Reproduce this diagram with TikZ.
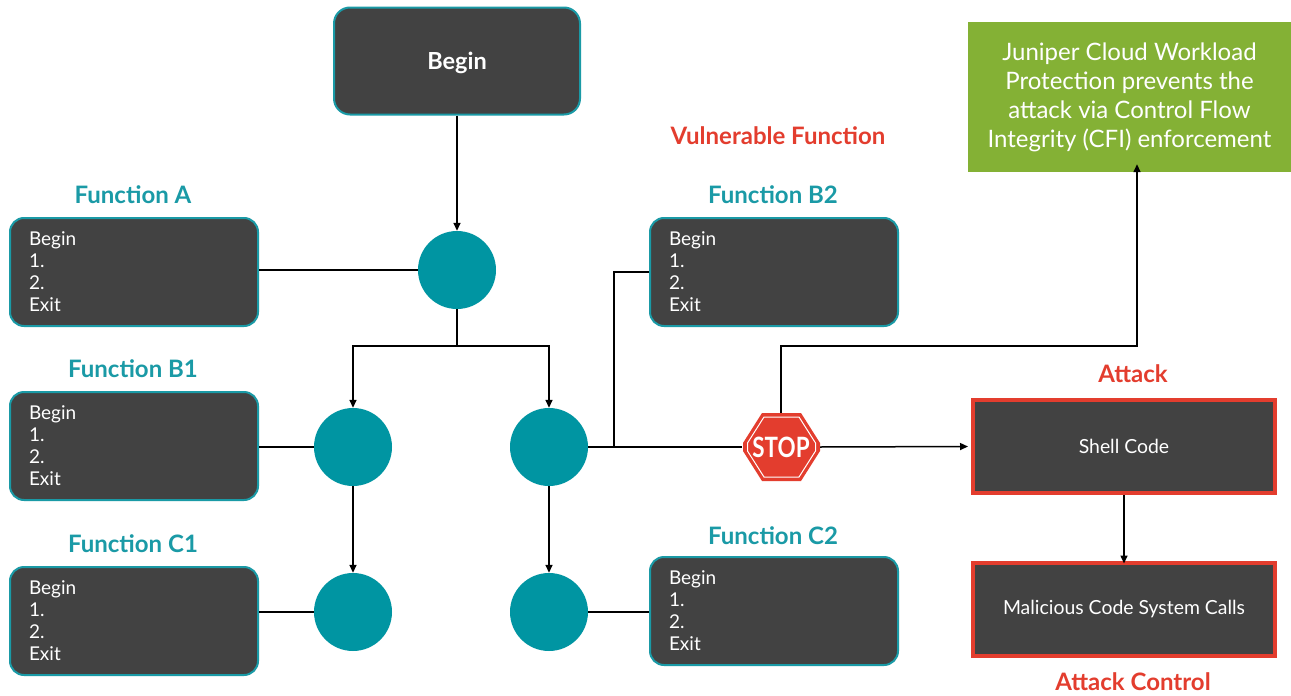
\documentclass[tikz,border=0pt]{standalone}
\usepackage{fontspec}
\setmainfont{Lato}
\usetikzlibrary{arrows.meta}
\definecolor{dk}{HTML}{424242}
\definecolor{tealc}{HTML}{0095A2}
\definecolor{tealb}{HTML}{1A9AA6}
\definecolor{redc}{HTML}{E33D2E}
\definecolor{grn}{HTML}{84B135}
\tikzset{
  conn/.style={draw=black, line width=1.5pt},
  arr/.style={conn, -{Triangle[length=8pt,width=7pt]}},
  fbox/.style={draw=tealb, line width=2pt, fill=dk, rounded corners=14pt, text=white,
    minimum height=108pt, text width=210pt, inner xsep=19pt, align=left,
    font=\fontsize{19}{22}\selectfont},
  dot/.style={circle, fill=tealc, minimum size=78pt, inner sep=0pt},
  flabel/.style={text=tealb, font=\fontsize{24}{26}\selectfont\bfseries},
  rlabel/.style={text=redc, font=\fontsize{24}{26}\selectfont\bfseries},
  abox/.style={draw=redc, line width=4pt, fill=dk, text=white, minimum width=302pt,
    minimum height=93pt, font=\fontsize{19.4}{22}\selectfont},
}
\begin{document}
\begin{tikzpicture}[x=1pt,y=-1pt]
\useasboundingbox[fill=white] (0,0) rectangle (1291,696);

% Begin box
\node[draw=tealb, line width=2pt, fill=dk, rounded corners=16pt, text=white,
  minimum width=246pt, minimum height=107pt, text depth=0pt,
  font=\fontsize{23.5}{26}\selectfont\bfseries]
  (begin) at (457,61) {Begin};

% circles
\node[dot] (cA) at (457,270) {};
\node[dot] (cB1) at (353,447) {};
\node[dot] (cB2) at (549,447) {};
\node[dot] (cC1) at (353,612) {};
\node[dot] (cC2) at (549,612) {};

% function boxes
\node[flabel] (lA) at (133,195) {Function A};
\node[fbox] (fA) at (134,272) {Begin\\1.\\2.\\Exit};
\node[flabel] (lB1) at (133,369) {Function B1};
\node[fbox] (fB1) at (134,446) {Begin\\1.\\2.\\Exit};
\node[flabel] (lC1) at (133,544) {Function C1};
\node[fbox] (fC1) at (134,621) {Begin\\1.\\2.\\Exit};
\node[rlabel] (lV) at (778,136) {Vulnerable Function};
\node[flabel] (lB2) at (773,195) {Function B2};
\node[fbox] (fB2) at (774,272) {Begin\\1.\\2.\\Exit};
\node[flabel] (lC2) at (773,536) {Function C2};
\node[fbox] (fC2) at (774,611) {Begin\\1.\\2.\\Exit};

% green box
\node[fill=grn, text=white, minimum width=323pt, minimum height=150pt, align=center,
  font=\fontsize{24}{29}\selectfont] (cfi) at (1129.5,97)
  {Juniper Cloud Workload\\Protection prevents the\\attack via Control Flow\\Integrity (CFI) enforcement};

% attack boxes
\node[rlabel] (lAt) at (1133,374) {Attack};
\node[abox] (shell) at (1124,446.5) {Shell Code};
\node[abox] (mal) at (1124,609) {Malicious Code System Calls};
\node[rlabel] (lAC) at (1133,682) {Attack Control};

% STOP sign
\node[minimum width=78pt, minimum height=68pt, inner sep=0pt] (stop) at (781,447) {};
\fill[redc] (762,413) -- (801,413) -- (820,443) -- (820,451) -- (801,481) -- (762,481) -- (743,451) -- (743,443) -- cycle;
\draw[white, line width=1pt] (764,417) -- (799,417) -- (815.5,443) -- (815.5,451) -- (799,477) -- (764,477) -- (747.5,451) -- (747.5,443) -- cycle;
\node[text=white, font=\fontsize{28}{28}\selectfont\bfseries, xscale=0.8] (stoptxt) at (781,447.5) {STOP};

% coordinates
\coordinate (split) at (457,346);
\coordinate (j) at (614,447);
\coordinate (up) at (781,346);

% connectors
\draw[arr] (begin.south) -- (cA.north);
\draw[conn] (cA.west) -- (cA.west -| fA.east);
\draw[conn] (cA.south) -- (split);
\draw[arr] (split) -| (cB1.north);
\draw[arr] (split) -| (cB2.north);
\draw[conn] (cB1.west) -- (cB1.west -| fB1.east);
\draw[conn] (cC1.west) -- (cC1.west -| fC1.east);
\draw[arr] (cB1.south) -- (cC1.north);
\draw[arr] (cB2.south) -- (cC2.north);
\draw[conn] (cC2.east) -- (cC2.east -| fC2.west);
\draw[conn] (fB2.west) -| (j);
\draw[conn] (cB2.east) -- (stop.west);
\draw[arr] (stop.east) -- ([xshift=-3pt]shell.west);
\draw[arr] (stop.north) -- (up) -| ([yshift=8pt]cfi.south -| 1137,0);
\draw[arr] (shell.south) -- ([yshift=-3pt]mal.north);
\end{tikzpicture}
\end{document}
